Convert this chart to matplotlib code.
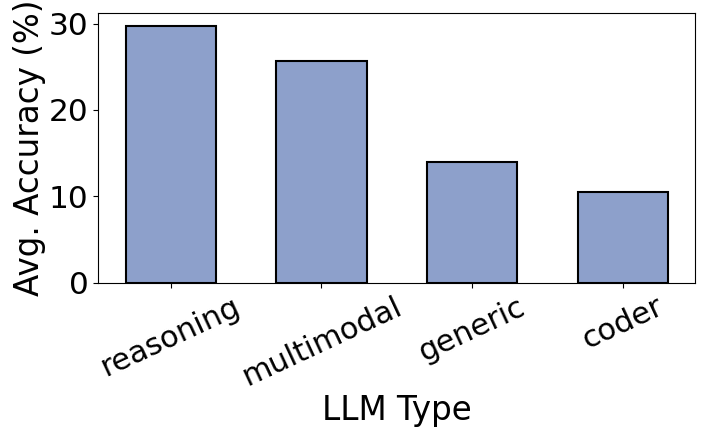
import matplotlib
matplotlib.use("Agg")
import matplotlib.pyplot as plt

categories = ["reasoning", "multimodal", "generic", "coder"]
accuracy = [29.7, 25.7, 14.0, 10.5]

TICK_FS = 22
LABEL_FS = 23.5
plt.rcParams['font.family'] = ['DejaVu Sans']
fig = plt.figure(figsize=(7.08, 4.43), dpi=100)
ax = fig.add_axes([0.139, 0.362, 0.843, 0.608])
x = list(range(len(categories)))
ax.bar(x, accuracy, width=0.6, color="#8DA0CB", edgecolor="black", linewidth=1.5)
ax.set_xticks(x)
ax.set_xticklabels(categories, rotation=25, fontsize=TICK_FS)
ax.set_yticks([0, 10, 20, 30])
ax.tick_params(axis='y', labelsize=TICK_FS + 0.5)
ax.set_ylabel("Avg. Accuracy (%)", fontsize=LABEL_FS, labelpad=2)
ax.set_xlabel("LLM Type", fontsize=LABEL_FS, labelpad=2)
fig.savefig("out.png", dpi=100)
